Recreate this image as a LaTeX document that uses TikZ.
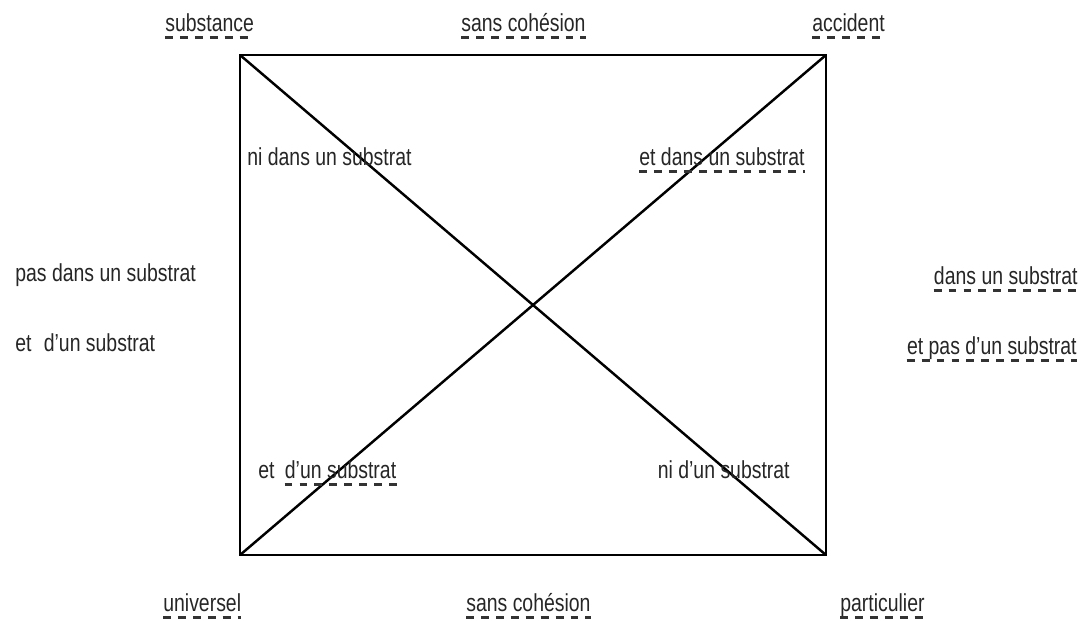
\documentclass[tikz,border=0pt]{standalone}
\usepackage{fontspec}
\setmainfont[FakeStretch=0.79]{Liberation Sans}
\usetikzlibrary{positioning}
\begin{document}
\begin{tikzpicture}[x=0.02cm, y=-0.02cm, font=\fontsize{14}{16}\selectfont]
    % --- Estilos ---
    \tikzset{
        etiquette/.style={inner sep=0pt, text=black!85},
        tirets/.style={dash pattern=on 4.5pt off 4pt, line width=1.2pt, color=black!80},
        cadre/.style={line width=1.4pt}
    }
    \useasboundingbox (0,0) rectangle (1087,620);

    % --- Cadre et diagonales ---
    \coordinate (hg) at (240,55);
    \coordinate (hd) at (826,55);
    \coordinate (bg) at (240,555);
    \coordinate (bd) at (826,555);
    \draw[cadre] (hg) rectangle (bd);
    \draw[cadre] (hg) -- (bd);
    \draw[cadre] (bg) -- (hd);

    % --- Etiquettes soulignees ---
    \foreach \nom/\ancre/\x/\y/\texte in {
        substance/base west/165/31/{substance},
        sanscohh/base west/461/31/{sans cohésion},
        accident/base west/812/31/{accident},
        etdans/base east/805/165/{et dans un substrat},
        dans/base east/1078/284/{dans un substrat},
        etpas/base east/1077/354/{et pas d'un substrat},
        universel/base west/163/611/{universel},
        sanscohb/base west/466/611/{sans cohésion},
        particulier/base west/840/611/{particulier}
    } {
        \node[etiquette, anchor=\ancre] (\nom) at (\x,\y) {\texte};
        \draw[tirets] ([yshift=-0.13cm]\nom.base west) -- ([yshift=-0.13cm]\nom.base east);
    }

    % --- Etiquettes simples ---
    \node[etiquette, anchor=base west] (nidans) at (247,165) {ni dans un substrat};
    \node[etiquette, anchor=base west] (pasdans) at (15,281) {pas dans un substrat};
    \node[etiquette, anchor=base west] (etdungauche) at (15,351) {et\hspace{0.5em}d'un substrat};
    \node[etiquette, anchor=base east] (nidun) at (790,478) {ni d'un substrat};

    % et d'un substrat (seule la fin soulignee)
    \node[etiquette, anchor=base west] (et) at (258,478) {et};
    \node[etiquette, base right=0.55em of et] (dun) {d'un substrat};
    \draw[tirets] ([yshift=-0.13cm]dun.base west) -- ([yshift=-0.13cm]dun.base east);
\end{tikzpicture}
\end{document}
